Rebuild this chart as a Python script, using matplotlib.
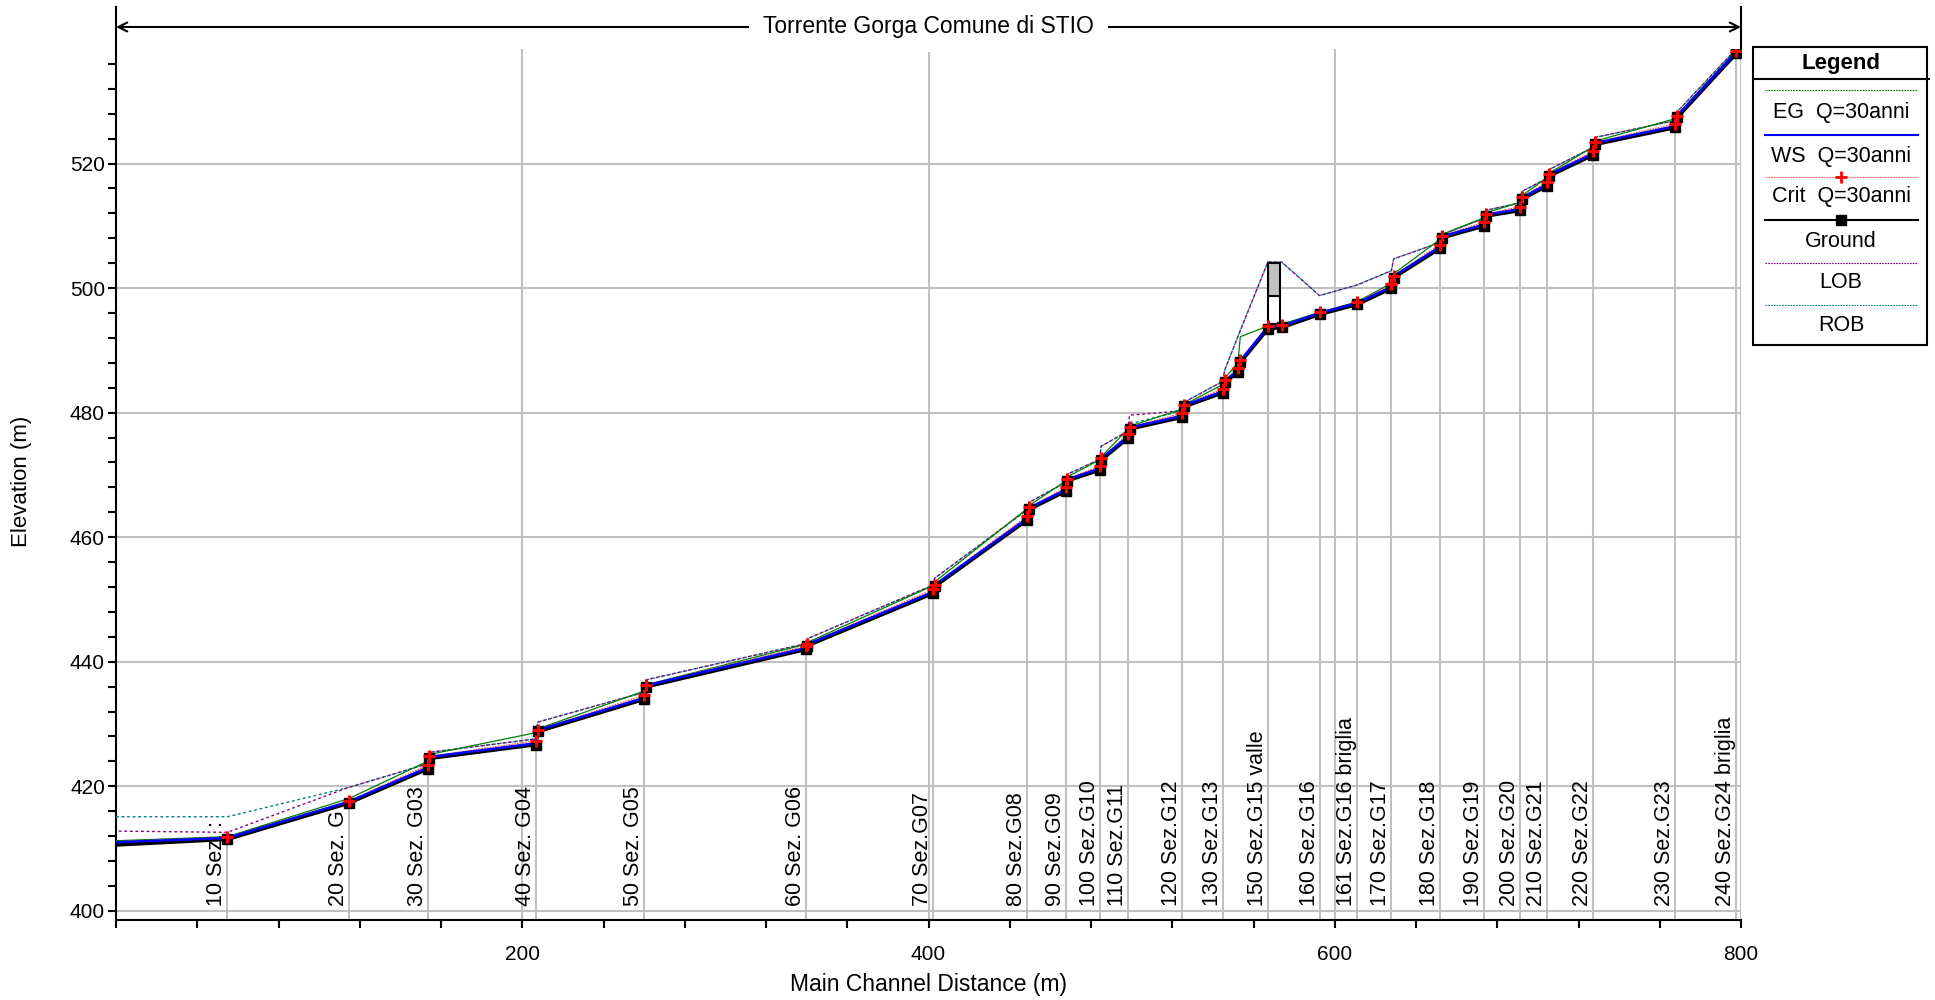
import matplotlib.pyplot as plt
import matplotlib.transforms as mtransforms
from matplotlib.lines import Line2D
from matplotlib.patches import Rectangle
from matplotlib.ticker import MultipleLocator

plt.rcParams['font.family'] = ['Liberation Sans', 'DejaVu Sans']

W, H = 1935, 1000

# profile points along the main channel (m) - downstream at 0
dist = [0, 54.8, 114.5, 153.4, 154.3, 206.6, 207.6, 260.1, 261.1, 339.6,
        340.4, 402.2, 403.0, 448.6, 449.6, 467.5, 468.4, 484.2, 485.0, 498.0,
        499.0, 525.0, 526.0, 544.8, 545.8, 552.3, 553.5, 567.1, 573.8, 592.5,
        611.0, 627.9, 629.0, 651.7, 652.7, 673.5, 674.5, 691.3, 692.0, 704.3,
        705.3, 727.2, 728.1, 767.5, 768.5, 797.6]
ground = [410.6, 411.5, 417.3, 422.8, 424.5, 426.7, 428.8, 434.0, 436.0, 442.0,
          442.6, 451.0, 452.1, 462.8, 464.5, 467.4, 469.1, 470.8, 472.4, 475.9,
          477.4, 479.3, 481.0, 483.2, 484.9, 486.5, 488.1, 493.5, 493.7, 495.8,
          497.4, 500.0, 501.7, 506.4, 508.1, 510.0, 511.6, 512.5, 514.3, 516.4,
          518.0, 521.4, 523.1, 525.8, 527.4, 537.7]
ws = [411.0, 411.7, 417.5, 423.0, 424.7, 426.9, 429.0, 434.2, 436.2, 442.2,
      442.8, 451.2, 452.3, 463.0, 464.7, 467.6, 469.3, 471.0, 472.6, 476.1,
      477.6, 479.5, 481.2, 483.4, 485.1, 486.7, 488.3, 493.8, 493.9, 496.0,
      497.6, 500.2, 501.9, 506.6, 508.3, 510.2, 511.8, 512.7, 514.5, 516.6,
      518.2, 521.6, 523.3, 526.0, 527.6, 537.9]
crit = [411.1, 411.8, 417.6, 423.4, 424.8, 427.3, 429.1, 434.6, 436.3, 442.5,
        442.9, 451.6, 452.4, 463.4, 464.8, 468.0, 469.4, 471.4, 472.7, 476.5,
        477.7, 479.9, 481.3, 483.8, 485.2, 487.1, 488.4, 493.9, 494.0, 496.1,
        497.7, 500.6, 502.0, 507.0, 508.4, 510.6, 511.9, 513.1, 514.6, 517.0,
        518.3, 522.0, 523.4, 526.4, 527.7, 538.0]
eg = [411.25, 411.9, 418.0, 424.0, 425.1, 428.6, 429.2, 435.3, 436.3, 442.8,
      443.1, 452.2, 452.8, 464.6, 465.1, 469.0, 469.7, 472.4, 472.9, 477.3,
      477.8, 480.6, 481.3, 484.5, 485.5, 488.0, 492.2, 493.9, 494.2, 496.1,
      497.8, 500.8, 502.3, 507.8, 508.6, 511.3, 512.1, 513.8, 514.8, 517.7,
      518.4, 522.7, 523.6, 527.2, 527.8, 538.1]
lob = [412.8, 412.6, 419.8, 423.6, 425.45, 427.6, 430.3, 435.1, 437.1, 442.9,
       443.7, 452.3, 453.4, 464.4, 465.6, 468.8, 470.1, 472.5, 474.6, 477.0,
       479.6, 480.3, 481.7, 485.0, 486.8, 492.2, 493.2, 504.2, 504.2, 498.8,
       500.5, 502.8, 504.7, 507.3, 508.6, 511.2, 512.5, 513.7, 515.5, 517.6,
       519.0, 522.6, 524.2, 526.9, 528.3, 538.4]
rob = [415.1, 415.1, 419.8, 423.6, 425.45, 427.6, 430.3, 435.1, 437.1, 442.9,
       443.7, 452.3, 453.4, 464.4, 465.6, 468.8, 470.1, 472.5, 474.6, 477.0,
       478.2, 480.3, 481.7, 485.0, 486.8, 492.2, 493.2, 504.2, 504.2, 498.8,
       500.5, 502.8, 504.7, 507.3, 508.6, 511.2, 512.5, 513.7, 515.5, 517.6,
       519.0, 522.6, 524.2, 526.9, 528.3, 538.4]

# labelled cross sections (index into the profile points)
sec_idx = [1, 2, 3, 5, 7, 9, 11, 13, 15, 17, 19, 21, 23, 27, 29, 30, 31, 33,
           35, 37, 39, 41, 43, 45]
sec_names = ["10 Sez. :", "20 Sez. G", "30 Sez. G03", "40 Sez. G04",
             "50 Sez. G05", "60 Sez. G06", "70 Sez.G07", "80 Sez.G08",
             "90 Sez.G09", "100 Sez.G10", "110 Sez.G11", "120 Sez.G12",
             "130 Sez.G13", "150 Sez.G15 valle", "160 Sez.G16",
             "161 Sez.G16 briglia", "170 Sez.G17", "180 Sez.G18",
             "190 Sez.G19", "200 Sez.G20", "210 Sez.G21", "220 Sez.G22",
             "230 Sez.G23", "240 Sez.G24 briglia"]

# inline weir (briglia) between sections 150 and 155
weir_sta = (567.1, 573.2)
weir_open = (494.3, 498.7)
weir_deck = (498.7, 504.0)

YMIN, YMAX = 398.6, 538.4
GRAY = '#c0c0c0'

fig = plt.figure(figsize=(W / 100, H / 100), dpi=100)
ax = fig.add_axes([116 / W, 1 - 919.5 / H, (1741 - 116) / W, (919.5 - 49) / H])
ax.set_xlim(0, 800)
ax.set_ylim(YMIN, YMAX)

ax.set_xticks([200, 400, 600, 800])
ax.xaxis.set_minor_locator(MultipleLocator(40))
ax.set_yticks(range(400, 521, 20))
ax.yaxis.set_minor_locator(MultipleLocator(4))
ax.grid(True, which='major', color=GRAY, lw=1.5)
ax.set_axisbelow(True)
ax.tick_params(which='both', direction='out', length=6, width=1.5, labelsize=15)
ax.tick_params(axis='x', pad=12)
ax.tick_params(axis='y', pad=2)
for s in ['top', 'right']:
    ax.spines[s].set_visible(False)
for s in ['left', 'bottom']:
    ax.spines[s].set_linewidth(1.5)

# section lines and names
sx = [dist[i] for i in sec_idx]
sz = [ground[i] for i in sec_idx]
ax.vlines(sx, YMIN, sz, color=GRAY, lw=1.5, zorder=1)
for x, name in zip(sx, sec_names):
    ax.text(x, 400.8, name, rotation=90, ha='right', va='bottom', fontsize=15.5, zorder=2)

# weir
ax.add_patch(Rectangle((weir_sta[0], weir_open[0]), weir_sta[1] - weir_sta[0],
                       weir_open[1] - weir_open[0], fc='white', ec='black', lw=1.5, zorder=4))
ax.add_patch(Rectangle((weir_sta[0], weir_deck[0]), weir_sta[1] - weir_sta[0],
                       weir_deck[1] - weir_deck[0], fc=GRAY, ec='black', lw=1.5, zorder=4))

# LOB / ROB dashes are offset so they interleave where the banks coincide
ax.plot(dist, rob, color='#008080', lw=1, ls=(0, (2, 2)), zorder=3)
ax.plot(dist, lob, color='#800080', lw=1, ls=(2, (2, 2)), zorder=3)
ax.plot(dist, eg, color='#008000', lw=0.9, zorder=3)
ax.plot(dist, crit, color='#ff5050', lw=0.8, ls=(0, (1.5, 1)), zorder=3)
ax.plot(dist, ground, color='black', lw=2.8, zorder=5)
ax.plot(dist, ws, color='#0000ff', lw=1.8, zorder=6)
ax.plot(dist[1:], ground[1:], ls='none', marker='s', ms=7, color='black', zorder=7)
ax.plot(dist[1:], crit[1:], ls='none', marker='+', ms=9, mew=2.2, color='red', zorder=8)

# reach title with span arrow
trans = mtransforms.blended_transform_factory(ax.transData, ax.transAxes)
ya = (919.5 - 27) / (919.5 - 49)
ax.annotate('', xy=(0, ya), xytext=(800, ya), xycoords=trans, textcoords=trans,
            annotation_clip=False,
            arrowprops=dict(arrowstyle='<->', lw=1.5, color='black',
                            shrinkA=0, shrinkB=0, mutation_scale=16))
ax.text(400, ya, 'Torrente Gorga Comune di STIO', transform=trans, ha='center',
        va='center', fontsize=16.5, zorder=10,
        bbox=dict(boxstyle='square,pad=0.6', fc='white', ec='none'))
ytop = (919.5 - 7) / (919.5 - 49)
for xa in (0, 1):
    ax.add_line(Line2D([xa, xa], [1, ytop], transform=ax.transAxes, color='black',
                       lw=1.5, clip_on=False))

fig.text(22 / W, 1 - 481 / H, 'Elevation (m)', rotation=90, ha='center', va='center', fontsize=16)
fig.text(928 / W, 1 - 984 / H, 'Main Channel Distance (m)', ha='center', va='center', fontsize=16.5)


# legend box drawn in pixel units
def fx(px):
    return px / W


def fy(py):
    return 1 - py / H


fig.add_artist(Rectangle((fx(1753), fy(345)), fx(1927) - fx(1753), fy(47) - fy(345),
                         transform=fig.transFigure, fc='white', ec='black', lw=1.5))
fig.add_artist(Line2D([fx(1753), fx(1929)], [fy(79), fy(79)], transform=fig.transFigure,
                      color='black', lw=1.5))
fig.text(fx(1841), fy(63), 'Legend', ha='center', va='center', fontsize=16, fontweight='bold')

leg_entries = [
    ('EG  Q=30anni', dict(color='#008000', lw=0.8, ls=(0, (1.5, 1)))),
    ('WS  Q=30anni', dict(color='#0000ff', lw=1.5)),
    ('Crit  Q=30anni', dict(color='#ff5050', lw=0.8, ls=(0, (1.5, 1)))),
    ('Ground', dict(color='black', lw=1.5)),
    ('LOB', dict(color='#800080', lw=0.8, ls=(0, (1.5, 1)))),
    ('ROB', dict(color='#008080', lw=0.8, ls=(0, (1.5, 1)))),
]
line_y = [90, 135, 176.7, 220, 262.7, 305]
text_y = [112.7, 156.7, 196.7, 241.7, 283, 325.7]
for (label, style), ly, ty in zip(leg_entries, line_y, text_y):
    fig.add_artist(Line2D([fx(1765), fx(1918)], [fy(ly), fy(ly)], transform=fig.transFigure, **style))
    fig.text(fx(1841), fy(ty), label, ha='center', va='center', fontsize=15.5)
fig.add_artist(Line2D([fx(1841)], [fy(176.7)], transform=fig.transFigure, ls='none',
                      marker='+', ms=8, mew=2, color='red'))
fig.add_artist(Line2D([fx(1841)], [fy(220)], transform=fig.transFigure, ls='none',
                      marker='s', ms=7, color='black'))

fig.savefig('out.png', dpi=100)
